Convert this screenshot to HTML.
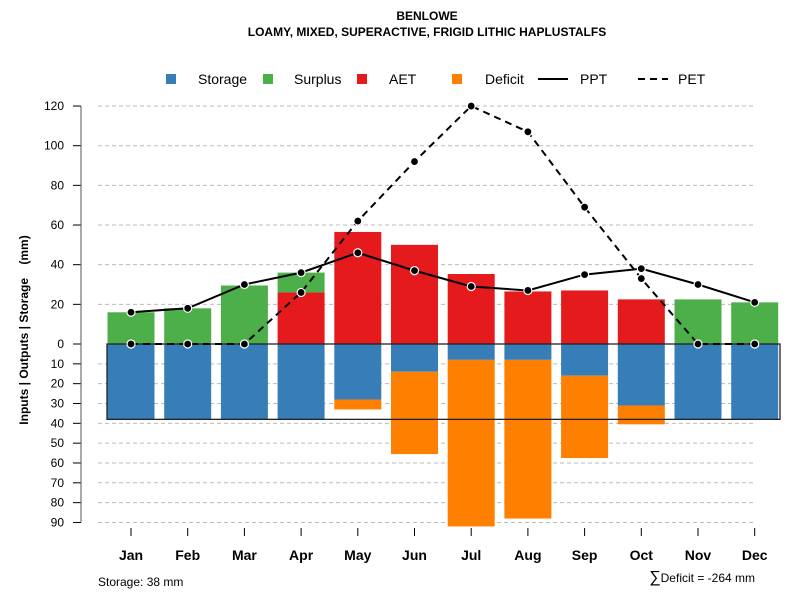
<!DOCTYPE html>
<html><head><meta charset="utf-8"><style>body{margin:0;background:#fff}svg{font-family:"Liberation Sans",sans-serif}</style></head>
<body>
<svg id="c" width="800" height="600" xmlns="http://www.w3.org/2000/svg">
<text x="427" y="20" text-anchor="middle" font-size="12" font-weight="bold">BENLOWE</text>
<text x="427" y="36" text-anchor="middle" font-size="12" font-weight="bold">LOAMY, MIXED, SUPERACTIVE, FRIGID LITHIC HAPLUSTALFS</text>
<g id="grid"></g><g id="bars"></g><g id="lines"></g><g id="axes"></g>
<g font-size="14">
<rect x="166" y="74" width="10" height="10" fill="#377eb8"/><text x="198" y="84">Storage</text>
<rect x="263" y="74" width="10" height="10" fill="#4daf4a"/><text x="294" y="84">Surplus</text>
<rect x="357" y="74" width="10" height="10" fill="#e41a1c"/><text x="389" y="84">AET</text>
<rect x="452" y="74" width="10" height="10" fill="#ff7f00"/><text x="485" y="84">Deficit</text>
<line x1="538" y1="79" x2="568" y2="79" stroke="#000" stroke-width="2"/><text x="580" y="84">PPT</text>
<line x1="638" y1="79" x2="668" y2="79" stroke="#000" stroke-width="2" stroke-dasharray="7,5"/><text x="678" y="84">PET</text>
</g>
<text transform="translate(28,330) rotate(-90)" text-anchor="middle" font-size="12" font-weight="bold" style="white-space:pre">Inputs | Outputs | Storage&#160;&#160;&#160;&#160;(mm)</text>
<text x="98" y="586" font-size="12">Storage: 38 mm</text>
<text x="755" y="582" text-anchor="end" font-size="12"><tspan font-size="16">∑</tspan>Deficit = -264 mm</text>
</svg>
<script>
const months=["Jan","Feb","Mar","Apr","May","Jun","Jul","Aug","Sep","Oct","Nov","Dec"];
const ppt=[16,18,30,36,46,37,29,27,35,38,30,21];
const pet=[0,0,0,26,62,92,120,107,69,33,0,0];
const aet=[0,0,0,26,56.5,50,35.3,26.5,27,22.5,0,0];
const surplus=[16,18,29.5,10,0,0,0,0,0,0,22.5,21];
const storage=[38,38,38,38,28,14,8,8,16,31,38,38];
const deficit=[0,0,0,0,5,41.5,84,80,41.5,9.5,0,0];
const upTicks=[0,20,40,60,80,100,120];
const downTicks=[10,20,30,40,50,60,70,80,90];
const NS="http://www.w3.org/2000/svg";
const y0=344,k=1.983;
const yUp=v=>y0-v*k, yDn=v=>y0+v*k;
const xc=i=>131+i*56.7;
const bw=47;
function mk(t,a,p){const e=document.createElementNS(NS,t);for(const n in a)e.setAttribute(n,a[n]);document.getElementById(p).appendChild(e);return e;}
upTicks.forEach(v=>{
 if(v>0){const g=mk("line",{x1:98,x2:755,y1:yUp(v),y2:yUp(v),stroke:"#bbb","stroke-dasharray":"4,3"},"grid");
 
 }
 const t=mk("text",{x:64,y:yUp(v)+4,"text-anchor":"end","font-size":12},"axes");t.textContent=v;
 
 
 mk("line",{x1:73,x2:81,y1:yUp(v),y2:yUp(v),stroke:"#000"},"axes");
});
downTicks.forEach(v=>{
 const g=mk("line",{x1:98,x2:755,y1:yDn(v),y2:yDn(v),stroke:"#bbb","stroke-dasharray":"4,3"},"grid");
 
 
 const t=mk("text",{x:64,y:yDn(v)+4,"text-anchor":"end","font-size":12},"axes");t.textContent=v;
 
 
 mk("line",{x1:73,x2:81,y1:yDn(v),y2:yDn(v),stroke:"#000"},"axes");
});
mk("line",{x1:81,x2:81,y1:yUp(120),y2:yDn(90),stroke:"#555"},"axes");
months.forEach((m,i)=>{
 const x=xc(i);
 const s=mk("rect",{x:x-bw/2,y:y0,width:bw,height:storage[i]*k,fill:"#377eb8"},"bars");
 
 
 if(deficit[i]>0){const d=mk("rect",{x:x-bw/2,y:yDn(storage[i]),width:bw,height:deficit[i]*k,fill:"#ff7f00"},"bars");
 
 }
 if(aet[i]>0){const a=mk("rect",{x:x-bw/2,y:yUp(aet[i]),width:bw,height:aet[i]*k,fill:"#e41a1c"},"bars");
 
 }
 if(surplus[i]>0){const g=mk("rect",{x:x-bw/2,y:yUp(aet[i]+surplus[i]),width:bw,height:surplus[i]*k,fill:"#4daf4a"},"bars");
 
 }
 mk("line",{x1:x,x2:x,y1:528,y2:536,stroke:"#000"},"axes");
 const t=mk("text",{x:x,y:560,"text-anchor":"middle","font-size":14,"font-weight":"bold"},"axes");t.textContent=m;
 
 
});
const sb=mk("rect",{x:107,y:y0,width:673,height:38*k,fill:"none",stroke:"#222","stroke-width":1.3},"bars");


function series(arr,name,dash){
 const p=mk("polyline",{points:arr.map((v,i)=>xc(i)+","+yUp(v)).join(" "),fill:"none",stroke:"#000","stroke-width":2,"stroke-dasharray":dash},"lines");
 
 
 arr.forEach((v,i)=>{const c=mk("circle",{cx:xc(i),cy:yUp(v),r:4,fill:"#000",stroke:"#fff","stroke-width":1.2},"lines");
 
 });
}
series(pet,"pet","7,5");
series(ppt,"ppt","none");
</script>
</body></html>
